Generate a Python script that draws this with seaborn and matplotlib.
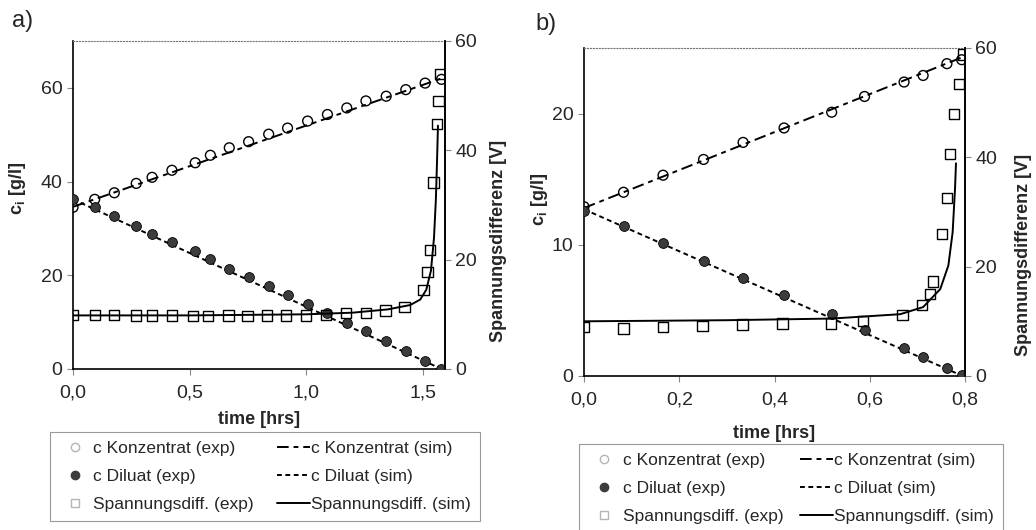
import matplotlib
matplotlib.use("Agg")
import matplotlib.pyplot as plt
from matplotlib.lines import Line2D
import seaborn as sns

# ---------------- data ----------------
# panel a)
t_a = [0, 0.093, 0.177, 0.271, 0.339, 0.424, 0.524, 0.589, 0.67, 0.753,
       0.839, 0.92, 1.006, 1.091, 1.174, 1.256, 1.343, 1.427, 1.51, 1.58]
konz_a = [34.5, 36.2, 37.6, 39.6, 40.9, 42.4, 44.0, 45.6, 47.2, 48.5,
          50.1, 51.4, 52.9, 54.3, 55.7, 57.2, 58.2, 59.6, 61.0, 61.8]
dil_a = [36.2, 34.5, 32.6, 30.5, 28.9, 27.0, 25.2, 23.4, 21.4, 19.6,
         17.7, 15.7, 13.8, 11.9, 9.9, 8.0, 5.9, 3.9, 1.8, 0.0]
tu_a = [0, 0.093, 0.177, 0.271, 0.339, 0.424, 0.515, 0.58, 0.667, 0.748,
        0.831, 0.914, 1.0, 1.086, 1.17, 1.256, 1.34, 1.421, 1.503, 1.52,
        1.531, 1.546, 1.56, 1.567, 1.574]
u_a = [9.9, 9.9, 9.9, 9.8, 9.8, 9.8, 9.7, 9.7, 9.8, 9.7,
       9.8, 9.8, 9.8, 9.9, 10.2, 10.3, 10.7, 11.3, 14.5, 17.8,
       21.7, 34.1, 44.8, 49.0, 54.0]
# simulation a)
ts_konz_a = [0, 1.58]
sim_konz_a = [34.6, 62.0]
ts_dil_a = [0, 1.58]
sim_dil_a = [36.2, 0.0]
ts_u_a = [0, 0.5, 1.0, 1.2, 1.35, 1.446, 1.489, 1.515, 1.535, 1.548, 1.556, 1.561, 1.565]
sim_u_a = [9.8, 9.8, 10.0, 10.3, 10.9, 11.7, 12.7, 14.5, 18.0, 24.0, 31.0, 38.0, 44.5]

# panel b)
t_b = [0, 0.083, 0.166, 0.251, 0.334, 0.42, 0.52, 0.589, 0.672, 0.712, 0.762, 0.793]
konz_b = [12.9, 14.0, 15.3, 16.5, 17.8, 18.9, 20.1, 21.3, 22.4, 22.9, 23.8, 24.1]
dil_b = [12.6, 11.4, 10.1, 8.8, 7.5, 6.2, 4.75, 3.5, 2.1, 1.45, 0.6, 0.1]
tu_b = [0, 0.083, 0.166, 0.249, 0.333, 0.417, 0.518, 0.586, 0.669, 0.71,
        0.726, 0.733, 0.751, 0.762, 0.768, 0.777, 0.787, 0.795]
u_b = [8.9, 8.7, 8.9, 9.1, 9.4, 9.6, 9.6, 10.0, 11.1, 13.0,
       15.0, 17.3, 26.0, 32.6, 40.6, 47.9, 53.4, 58.8]
# simulation b)
ts_konz_b = [0, 0.795]
sim_konz_b = [12.8, 24.3]
ts_dil_b = [0, 0.795]
sim_dil_b = [12.7, 0.0]
ts_u_b = [0, 0.3, 0.52, 0.664, 0.712, 0.748, 0.765, 0.774, 0.779, 0.781]
sim_u_b = [10.0, 10.2, 10.5, 11.3, 12.6, 15.9, 20.2, 26.3, 34.3, 38.9]

# ticks
xticks_a = [0, 0.5, 1.0, 1.5]
xlabels_a = ["0,0", "0,5", "1,0", "1,5"]
yticks_a = [0, 20, 40, 60]
xticks_b = [0, 0.2, 0.4, 0.6, 0.8]
xlabels_b = ["0,0", "0,2", "0,4", "0,6", "0,8"]
yticks_b = [0, 10, 20]
uticks = [0, 20, 40, 60]

legend_labels = ["c Konzentrat (exp)", "c Diluat (exp)", "Spannungsdiff. (exp)",
                 "c Konzentrat (sim)", "c Diluat (sim)", "Spannungsdiff. (sim)"]

# ---------------- style ----------------
sns.set_style("ticks")
plt.rcParams["font.family"] = ["Liberation Sans", "DejaVu Sans"]
plt.rcParams["mathtext.fontset"] = "custom"
plt.rcParams["mathtext.bf"] = "Liberation Sans:bold"
plt.rcParams["mathtext.rm"] = "Liberation Sans:bold"

KONZ_DASH = (6, 2.5, 2.5, 2.5)
DIL_DASH = (2.5, 1.8)
DIL_COL = "#3c3c3c"


def style_axes(ax, ax2):
    for s in ["left", "bottom", "right"]:
        ax.spines[s].set_color("black")
        ax.spines[s].set_linewidth(1.2)
    ax.spines["top"].set_linestyle(":")
    ax.spines["top"].set_color("#777777")
    ax2.spines["right"].set_color("black")
    ax2.spines["right"].set_linewidth(1.2)
    ax2.spines["top"].set_visible(False)
    ax2.spines["left"].set_visible(False)
    ax2.spines["bottom"].set_visible(False)
    ax.tick_params(labelsize=14, length=4, width=0.8, color="#888888", direction="out")
    ax.tick_params(axis="x", pad=7)
    ax2.tick_params(labelsize=14, length=4, width=0.8, color="#888888", direction="out")


def draw_panel(ax, t, konz, dil, tu, u, tkz, skz, tdl, sdl, tsu, su):
    ax2 = ax.twinx()
    sns.lineplot(x=tkz, y=skz, ax=ax, color="black", linewidth=1.4)
    ax.lines[-1].set_dashes(KONZ_DASH)
    sns.lineplot(x=tdl, y=sdl, ax=ax, color="black", linewidth=1.4)
    ax.lines[-1].set_dashes(DIL_DASH)
    sns.scatterplot(x=t, y=konz, ax=ax, marker="o", s=50, facecolor="none",
                    edgecolor="black", linewidth=1.0, zorder=3)
    sns.scatterplot(x=t, y=dil, ax=ax, marker="o", s=50, color=DIL_COL,
                    edgecolor="black", linewidth=0.6, zorder=3)
    sns.lineplot(x=tsu, y=su, ax=ax2, color="black", linewidth=1.4, sort=False)
    sns.scatterplot(x=tu, y=u, ax=ax2, marker="s", s=55, facecolor="none",
                    edgecolor="black", linewidth=1.0, zorder=3)
    return ax2


fig = plt.figure(figsize=(10.36, 5.3), dpi=100)

# panel a
ax_a = fig.add_axes([0.0705, 0.3038, 0.359, 0.619])
ax_a2 = draw_panel(ax_a, t_a, konz_a, dil_a, tu_a, u_a,
                   ts_konz_a, sim_konz_a, ts_dil_a, sim_dil_a, ts_u_a, sim_u_a)
ax_a.set_xlim(0, 1.595)
ax_a.set_ylim(0, 70)
ax_a2.set_ylim(0, 60)
ax_a.set_xticks(xticks_a, xlabels_a)
ax_a.set_yticks(yticks_a)
ax_a2.set_yticks(uticks)
style_axes(ax_a, ax_a2)
ax_a.set_xlabel("time [hrs]", fontsize=13, fontweight="bold", labelpad=7)
ax_a.set_ylabel(r"c$_\mathbf{i}$ [g/l]", fontsize=13, fontweight="bold")
ax_a.yaxis.set_label_coords(-0.121, 0.55)
ax_a2.set_ylabel("Spannungsdifferenz [V]", fontsize=13, fontweight="bold")
ax_a2.yaxis.set_label_coords(1.121, 0.39)
fig.text(0.012, 0.96, "a)", fontsize=17, va="center", ha="left")

# panel b
ax_b = fig.add_axes([0.5637, 0.2906, 0.3678, 0.619])
ax_b2 = draw_panel(ax_b, t_b, konz_b, dil_b, tu_b, u_b,
                   ts_konz_b, sim_konz_b, ts_dil_b, sim_dil_b, ts_u_b, sim_u_b)
ax_b.set_xlim(0, 0.8)
ax_b.set_ylim(0, 25)
ax_b2.set_ylim(0, 60)
ax_b.set_xticks(xticks_b, xlabels_b)
ax_b.set_yticks(yticks_b)
ax_b2.set_yticks(uticks)
style_axes(ax_b, ax_b2)
ax_b.set_xlabel("time [hrs]", fontsize=13, fontweight="bold", labelpad=12)
ax_b.set_ylabel(r"c$_\mathbf{i}$ [g/l]", fontsize=13, fontweight="bold")
ax_b.yaxis.set_label_coords(-0.089, 0.537)
ax_b2.set_ylabel("Spannungsdifferenz [V]", fontsize=13, fontweight="bold")
ax_b2.yaxis.set_label_coords(1.131, 0.37)
fig.text(0.517, 0.955, "b)", fontsize=17, va="center", ha="left")

# legends
handles = [
    Line2D([], [], linestyle="none", marker="o", markersize=6,
           markerfacecolor="white", markeredgecolor="#b5b5b5"),
    Line2D([], [], linestyle="none", marker="o", markersize=6,
           markerfacecolor=DIL_COL, markeredgecolor=DIL_COL),
    Line2D([], [], linestyle="none", marker="s", markersize=6,
           markerfacecolor="white", markeredgecolor="#b5b5b5"),
    Line2D([], [], color="black", linewidth=1.4, dashes=KONZ_DASH),
    Line2D([], [], color="black", linewidth=1.4, dashes=DIL_DASH),
    Line2D([], [], color="black", linewidth=1.4),
]

for x0, y0, w in [(0.048, 0.185, 0.415), (0.559, 0.162, 0.409)]:
    leg = fig.legend(handles, legend_labels, ncol=2, loc="upper left",
                     bbox_to_anchor=(x0, y0 - 0.2, w, 0.2), mode="expand",
                     fontsize=12.5, frameon=True, fancybox=False,
                     edgecolor="#999999", framealpha=1, handlelength=1.9,
                     handletextpad=0.1, labelspacing=0.75, borderpad=0.5,
                     borderaxespad=0)
    leg.get_frame().set_linewidth(0.8)

fig.savefig("out.png", dpi=100)
